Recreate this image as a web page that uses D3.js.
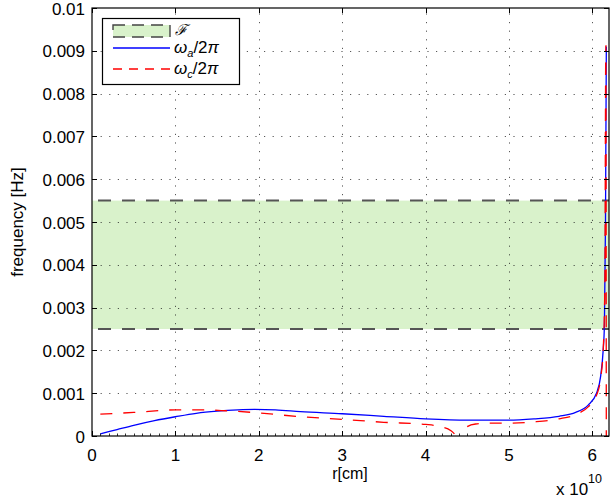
<!DOCTYPE html>
<html>
<head>
<meta charset="utf-8">
<script src="https://cdnjs.cloudflare.com/ajax/libs/d3/7.8.5/d3.min.js"></script>
<style>
  html, body { margin: 0; padding: 0; background: #fff; }
  svg { display: block; }
  text { font-family: "Liberation Sans", Arial, Helvetica, sans-serif; }
</style>
</head>
<body>
<svg id="chart" width="610" height="499"></svg>
<script>
// ---------------- data ----------------
const xTicks = [0, 1, 2, 3, 4, 5, 6];
const xTickLabels = ["0", "1", "2", "3", "4", "5", "6"];
const yTicks = [0, 0.001, 0.002, 0.003, 0.004, 0.005, 0.006, 0.007, 0.008, 0.009, 0.01];
const yTickLabels = ["0", "0.001", "0.002", "0.003", "0.004", "0.005", "0.006", "0.007", "0.008", "0.009", "0.01"];
const xDomain = [0, 6.2];      // r in units of 1e10 cm
const yDomain = [0, 0.01];     // Hz

// frequency band F
const bandLow = 0.0025;
const bandHigh = 0.0055;

// omega_a / 2pi  (solid blue)
const omegaA_r = [0.1, 0.3, 0.5, 0.75, 1.0, 1.25, 1.5, 1.75, 1.95, 2.2, 2.5, 3.0, 3.5, 4.0, 4.5, 5.0, 5.3, 5.6, 5.8, 5.95, 6.05, 6.1, 6.13, 6.145, 6.158, 6.168];
const omegaA_f = [0.00005, 0.00015, 0.00025, 0.00036, 0.00045, 0.00053, 0.00058, 0.00061, 0.00062, 0.00061, 0.00057, 0.00052, 0.00046, 0.00040, 0.00037, 0.00037, 0.00040, 0.00046, 0.00055, 0.00072, 0.00100, 0.00140, 0.00200, 0.00260, 0.00500, 0.00910];

// omega_c / 2pi  (dashed red), two branches around the zero crossing
const omegaC1_r = [0.1, 0.5, 1.0, 1.3, 1.6, 2.0, 2.5, 3.0, 3.5, 4.0, 4.2, 4.3, 4.36, 4.375];
const omegaC1_f = [0.00051, 0.00055, 0.00061, 0.00061, 0.00059, 0.00054, 0.00045, 0.00039, 0.00032, 0.00027, 0.00021, 0.00013, 0.00000, -0.00030];
const omegaC2_r = [4.445, 4.46, 4.5, 4.6, 4.8, 5.0, 5.3, 5.6, 5.8, 5.95, 6.05, 6.1, 6.13, 6.15, 6.162, 6.168];
const omegaC2_f = [-0.00030, 0.00000, 0.00022, 0.00028, 0.00030, 0.00030, 0.00033, 0.00040, 0.00050, 0.00068, 0.00095, 0.00135, 0.00200, 0.00350, 0.00912, -0.00050];

// ---------------- layout ----------------
const svg = d3.select("#chart");
const L = 92, R = 609, T = 8, B = 436;
const x = d3.scaleLinear().domain(xDomain).range([L, R]);
const y = d3.scaleLinear().domain(yDomain).range([B, T]);

svg.append("rect").attr("width", 610).attr("height", 499).attr("fill", "#fff");

svg.append("defs").append("clipPath").attr("id", "plotclip")
  .append("rect").attr("x", L).attr("y", T).attr("width", R - L).attr("height", B - T);

const plot = svg.append("g").attr("clip-path", "url(#plotclip)");

// band
plot.append("rect")
  .attr("x", x(xDomain[0])).attr("width", x(xDomain[1]) - x(xDomain[0]))
  .attr("y", y(bandHigh)).attr("height", y(bandLow) - y(bandHigh))
  .attr("fill", "#d9f2cb");

// grid (dotted)
const gridStyle = g => g.attr("stroke", "#222").attr("stroke-width", 1)
  .attr("stroke-dasharray", "1.2,7.4").attr("opacity", 0.75);
plot.selectAll("line.gx").data(xTicks.filter(d => d > 0)).join("line")
  .attr("class", "gx")
  .attr("x1", d => Math.round(x(d)) + 0.5).attr("x2", d => Math.round(x(d)) + 0.5)
  .attr("y1", B).attr("y2", T)
  .call(gridStyle);
plot.selectAll("line.gy").data(yTicks.filter(d => d > 0 && d < 0.01)).join("line")
  .attr("class", "gy")
  .attr("y1", d => Math.round(y(d)) + 0.5).attr("y2", d => Math.round(y(d)) + 0.5)
  .attr("x1", L).attr("x2", R)
  .call(gridStyle);

// band edges
[bandLow, bandHigh].forEach(v => {
  plot.append("line")
    .attr("x1", L + 6).attr("x2", R)
    .attr("y1", y(v)).attr("y2", y(v))
    .attr("stroke", "#555").attr("stroke-width", 2)
    .attr("stroke-dasharray", "13,11");
});

// curves
const line = d3.line().x(d => x(d[0])).y(d => y(d[1])).curve(d3.curveMonotoneX);
const A = d3.zip(omegaA_r, omegaA_f);
const C1 = d3.zip(omegaC1_r, omegaC1_f);
const C2 = d3.zip(omegaC2_r, omegaC2_f);

plot.append("path").datum(A).attr("d", line)
  .attr("fill", "none").attr("stroke", "#0000ff").attr("stroke-width", 1.3);
[C1, C2].forEach(seg => {
  plot.append("path").datum(seg).attr("d", line)
    .attr("fill", "none").attr("stroke", "#ff0000").attr("stroke-width", 1.3)
    .attr("stroke-dasharray", "12,11");
});

// axes box
svg.append("rect").attr("x", L).attr("y", T).attr("width", R - L).attr("height", B - T)
  .attr("fill", "none").attr("stroke", "#000").attr("stroke-width", 1.2);

// ticks (inward), bottom/top/left/right
const tickG = svg.append("g").attr("stroke", "#000").attr("stroke-width", 1);
xTicks.forEach(d => {
  const px = Math.round(x(d)) + 0.5;
  tickG.append("line").attr("x1", px).attr("x2", px).attr("y1", B).attr("y2", B - 5);
  tickG.append("line").attr("x1", px).attr("x2", px).attr("y1", T).attr("y2", T + 5);
});
d3.range(0, 62).forEach(i => {
  const v = i / 10;
  if (i % 10 === 0) return;
  const px = Math.round(x(v)) + 0.5;
  tickG.append("line").attr("x1", px).attr("x2", px).attr("y1", B).attr("y2", B - 2.5).attr("stroke-width", 0.8);
});
yTicks.forEach(d => {
  const py = Math.round(y(d)) + 0.5;
  tickG.append("line").attr("x1", L).attr("x2", L + 5).attr("y1", py).attr("y2", py);
  tickG.append("line").attr("x1", R).attr("x2", R - 5).attr("y1", py).attr("y2", py);
});

// tick labels
svg.selectAll("text.xl").data(xTicks).join("text")
  .attr("class", "xl")
  .attr("x", d => x(d)).attr("y", 461)
  .attr("text-anchor", "middle").attr("font-size", 17)
  .text((d, i) => xTickLabels[i]);
svg.selectAll("text.yl").data(yTicks).join("text")
  .attr("class", "yl")
  .attr("x", 85).attr("y", d => y(d) + 6.5)
  .attr("text-anchor", "end").attr("font-size", 17)
  .text((d, i) => yTickLabels[i]);

// axis titles
svg.append("text").attr("x", 350).attr("y", 479).attr("text-anchor", "middle")
  .attr("font-size", 16).text("r[cm]");
svg.append("text").attr("transform", "translate(23,222) rotate(-90)")
  .attr("text-anchor", "middle").attr("font-size", 17).text("frequency [Hz]");

// exponent label
svg.append("text").attr("x", 556).attr("y", 495).attr("font-size", 17).text("x 10");
svg.append("text").attr("x", 588).attr("y", 483).attr("font-size", 12.5).text("10");

// legend
const lg = svg.append("g");
lg.append("rect").attr("x", 102.5).attr("y", 18.5).attr("width", 137).attr("height", 66)
  .attr("fill", "#fff").attr("stroke", "#000").attr("stroke-width", 1.2);
lg.append("rect").attr("x", 113).attr("y", 25).attr("width", 57).attr("height", 12)
  .attr("fill", "#d9f2cb").attr("stroke", "#444").attr("stroke-width", 1.4)
  .attr("stroke-dasharray", "12,7");
lg.append("line").attr("x1", 113).attr("x2", 170).attr("y1", 48).attr("y2", 48)
  .attr("stroke", "#0000ff").attr("stroke-width", 1.3);
lg.append("line").attr("x1", 113).attr("x2", 170).attr("y1", 69).attr("y2", 69)
  .attr("stroke", "#ff0000").attr("stroke-width", 1.3).attr("stroke-dasharray", "9,7");

const serif = '"Liberation Serif", "DejaVu Serif", serif';
lg.append("text").attr("x", 175).attr("y", 35).attr("font-family", serif)
  .attr("font-style", "italic").attr("font-size", 15).text("ℱ");
function omegaLabel(yy, sub) {
  const t = lg.append("text").attr("x", 174).attr("y", yy).attr("font-family", serif).attr("font-size", 17);
  t.append("tspan").attr("font-style", "italic").text("ω");
  t.append("tspan").attr("font-style", "italic").attr("font-size", 11).attr("dy", 4).text(sub);
  t.append("tspan").attr("dy", -4).text("/2");
  t.append("tspan").attr("font-style", "italic").text("π");
}
omegaLabel(53, "a");
omegaLabel(74, "c");
</script>
</body>
</html>
